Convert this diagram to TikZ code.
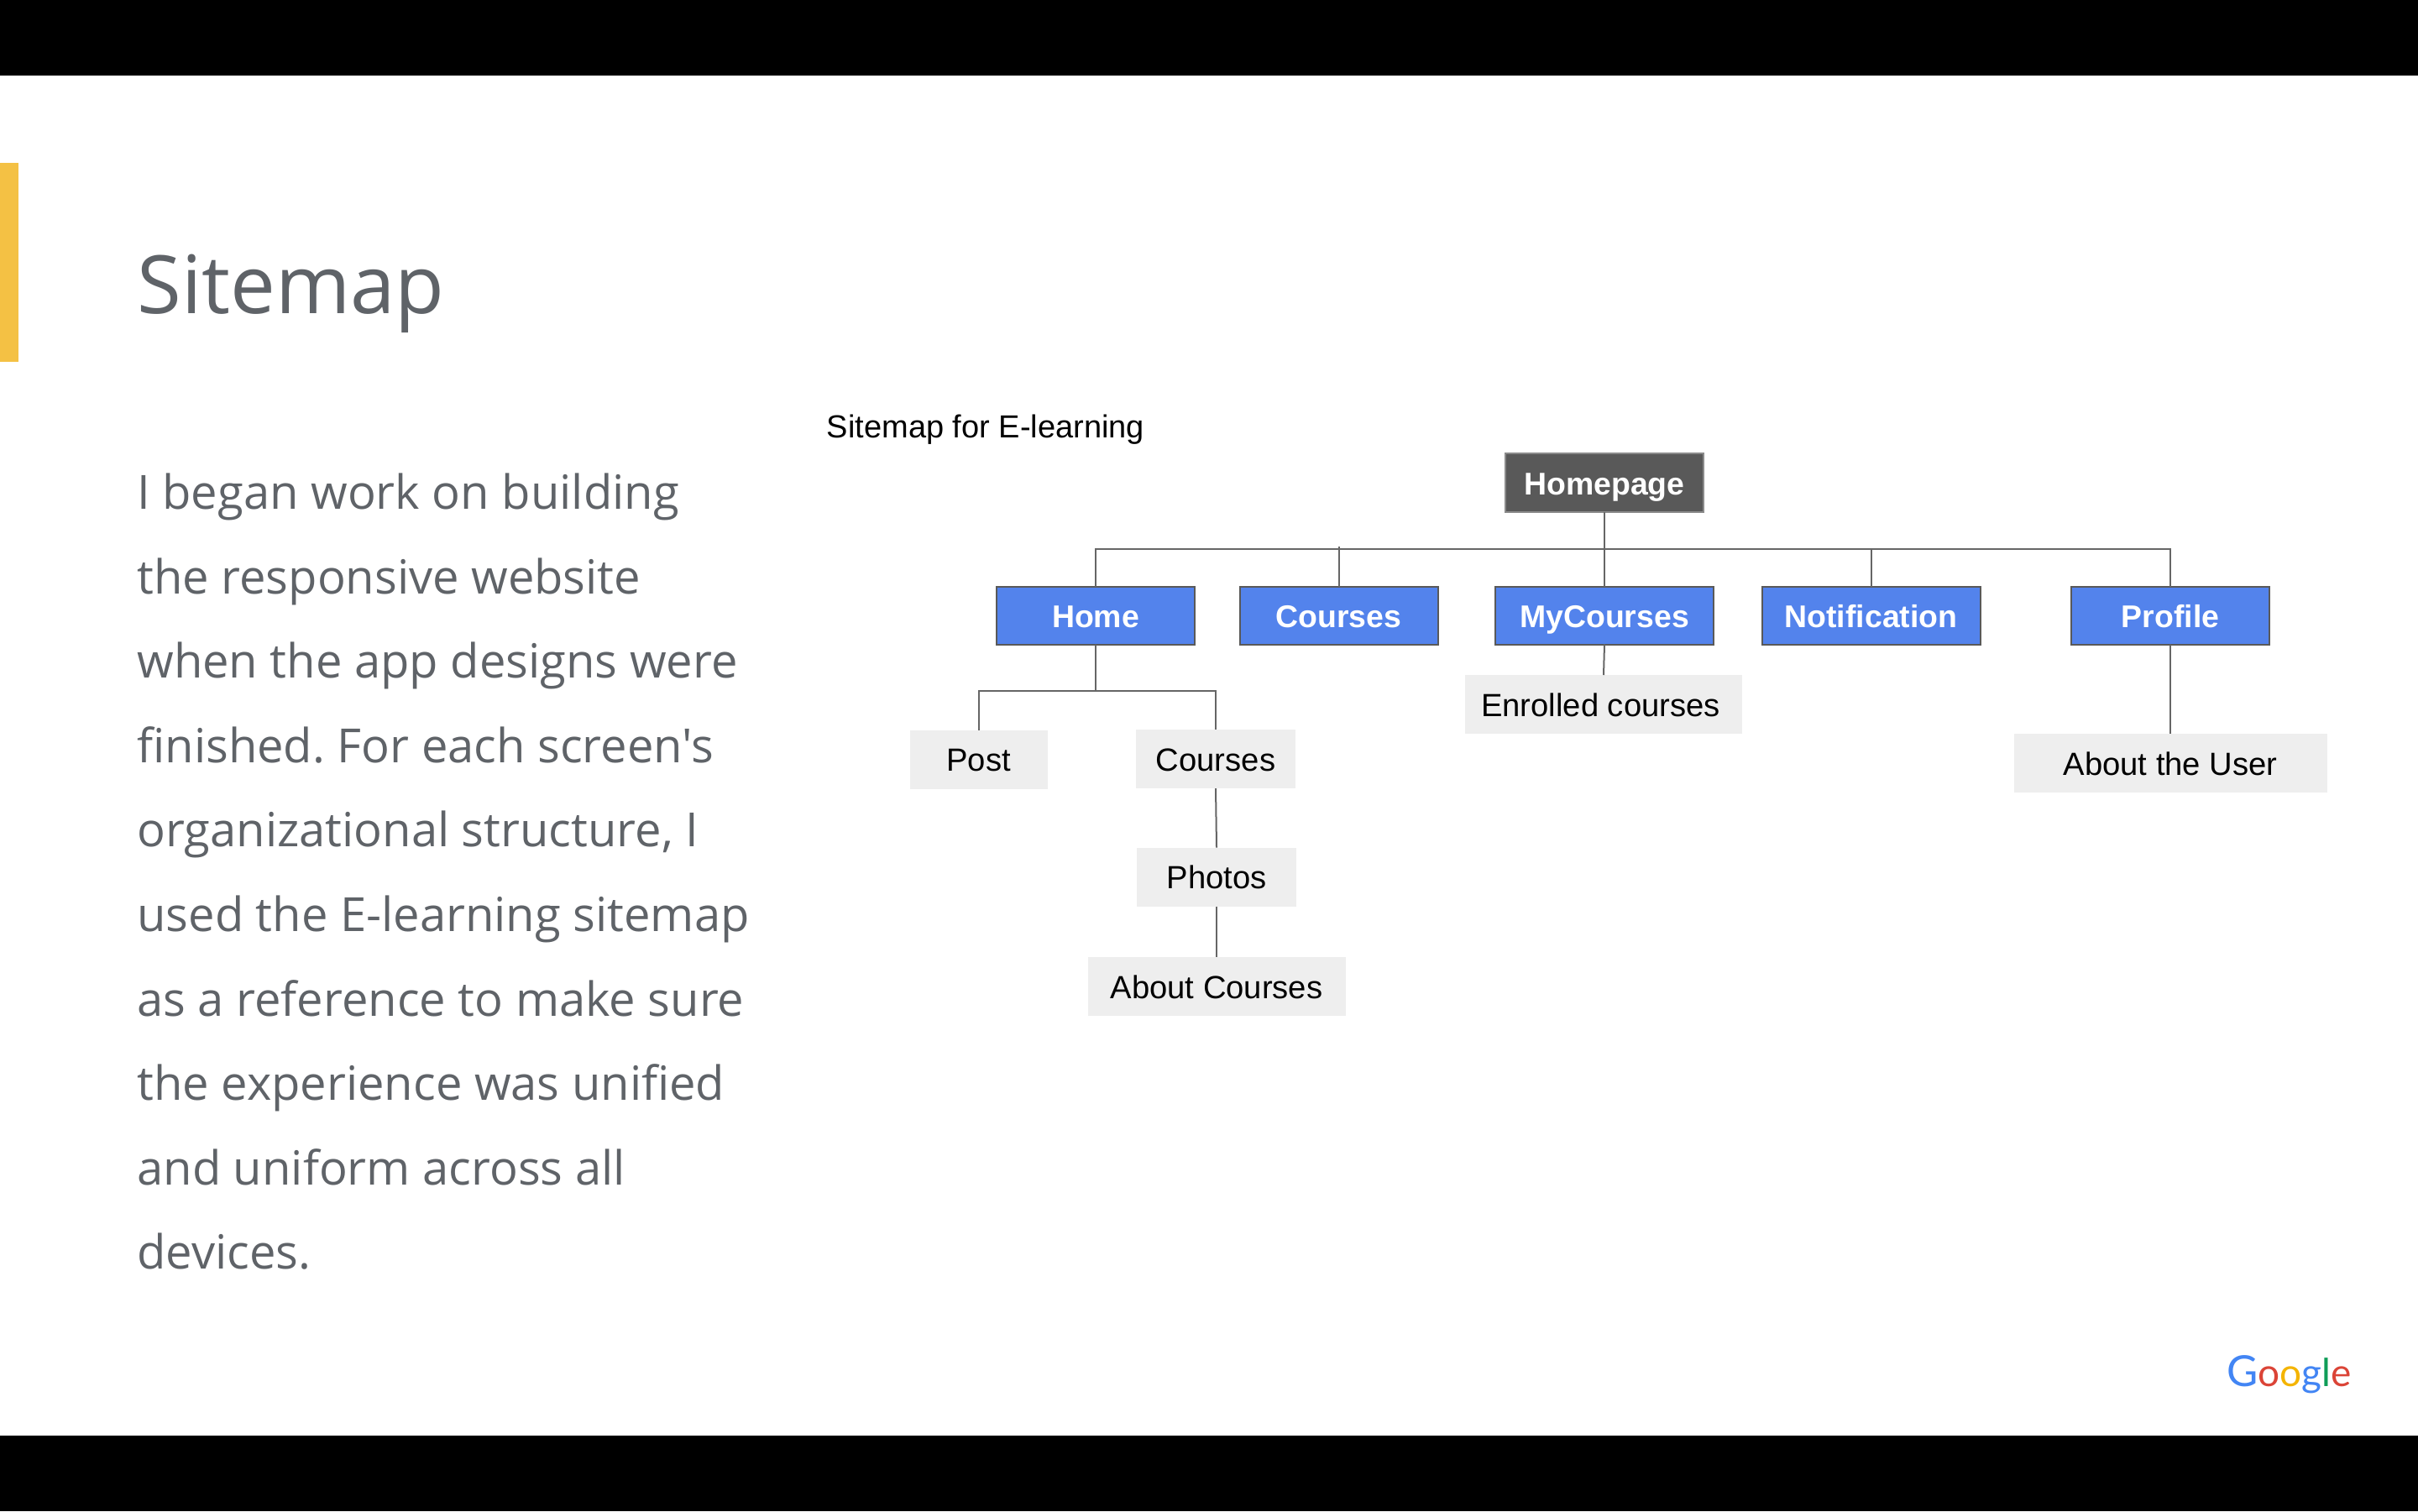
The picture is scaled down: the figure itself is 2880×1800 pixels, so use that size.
\documentclass[tikz,border=0pt]{standalone}
\usepackage{fontspec}
\setmainfont{Liberation Sans}
\newfontfamily\opensans{Open Sans}
\newfontfamily\logofont{Lato}
\definecolor{slate}{HTML}{5F6368}
\definecolor{barblue}{HTML}{5383EC}
\definecolor{darkbox}{HTML}{595959}
\definecolor{lightbox}{HTML}{EEEEEE}
\definecolor{edgegray}{HTML}{666666}
\definecolor{accent}{HTML}{F4C144}
\definecolor{gblue}{HTML}{4285F4}
\definecolor{gred}{HTML}{DB4437}
\definecolor{gyellow}{HTML}{F4B400}
\definecolor{ggreen}{HTML}{0F9D58}
\tikzset{
  basebox/.style={rectangle,inner sep=0pt,outer sep=0pt,text=black,text height=17pt,text depth=2.6pt,font=\fontsize{19.1}{22}\selectfont},
  topbox/.style={basebox,fill=darkbox,draw=darkbox!70!white,line width=0.8pt,text=white,font=\fontsize{18.7}{22}\selectfont\bfseries},
  mainbox/.style={basebox,fill=barblue,draw=darkbox,line width=1pt,text=white,font=\fontsize{18.7}{22}\selectfont\bfseries},
  subbox/.style={basebox,fill=lightbox},
  link/.style={draw=edgegray,line width=1pt},
}
\begin{document}
\begin{tikzpicture}[x=0.5pt,y=-0.5pt]
\useasboundingbox (0,0) rectangle (2880,1800);
\fill[white] (0,0) rectangle (2880,1800);
\fill[black] (0,0) rectangle (2880,90);
\fill[black] (0,1710) rectangle (2880,1800);
\fill[accent] (0,194) rectangle (22,431);
\node[anchor=base west,inner sep=0pt,text=slate,font=\opensans\fontsize{48}{60}\selectfont] (title) at (163,373) {Sitemap};
\node[anchor=north west,inner sep=0pt,text=slate,align=left,font=\opensans\fontsize{28.05}{50.3}\selectfont\frenchspacing] (body) at (163,563.5) {I began work on building\\the responsive website\\when the app designs were\\finished. For each screen's\\organizational structure, I\\used the E-learning sitemap\\as a reference to make sure\\the experience was unified\\and uniform across all\\devices.};
\node[anchor=base west,inner sep=0pt,font=\fontsize{19}{22}\selectfont] (caption) at (984.5,521.5) {Sitemap for E-learning};
% boxes
\node[topbox,minimum width=118pt,minimum height=35pt] (homepage) at (1911,575) {Homepage};
\node[mainbox,minimum width=118pt,minimum height=34.5pt] (home) at (1305,733.5) {Home};
\node[mainbox,minimum width=118pt,minimum height=34.5pt] (courses) at (1594.5,733.5) {Courses};
\node[mainbox,minimum width=130pt,minimum height=34.5pt] (mycourses) at (1911,733) {MyCourses};
\node[mainbox,minimum width=130pt,minimum height=34.5pt] (notification) at (2228.5,733.5) {Notification};
\node[mainbox,minimum width=118pt,minimum height=34.5pt] (profile) at (2585,733.5) {Profile};
\node[subbox,minimum width=82pt,minimum height=35pt] (post) at (1165.5,904.5) {Post};
\node[subbox,minimum width=95pt,minimum height=35pt] (subcourses) at (1448,904) {Courses};
\node[subbox,minimum width=95pt,minimum height=35pt] (photos) at (1449,1044.5) {Photos};
\node[subbox,minimum width=153.5pt,minimum height=35pt] (aboutcourses) at (1449,1175) {About Courses};
\node[subbox,minimum width=165pt,minimum height=35pt] (enrolled) at (1910,839) {\hspace*{-3.5pt}Enrolled courses};
\node[subbox,minimum width=186.5pt,minimum height=35pt] (aboutuser) at (2585,909) {About the User};
% bus points
\coordinate (busleft) at (home.north |- 0,654.4);
\coordinate (busright) at (profile.north |- 0,654.4);
\coordinate (busmid) at (homepage.south |- 0,654.4);
\coordinate (buscourses) at (courses.north |- 0,650.5);
\coordinate (busnotif) at (notification.north |- 0,654.4);
\coordinate (subbus) at (home.south |- 0,822.8);
% connectors
\draw[link] (homepage.south) -- (mycourses.north);
\draw[link] (home.north) -- (busleft) -- (busright) -- (profile.north);
\draw[link] (courses.north) -- (buscourses);
\draw[link] (notification.north) -- (busnotif);
\draw[link] (home.south) -- (subbus);
\draw[link] (post.north) |- (subbus) -| (subcourses.north);
\draw[link] (subcourses.south) -- (photos.north);
\draw[link] (photos.south) -- (aboutcourses.north);
\draw[link] (mycourses.south) -- (enrolled.north);
\draw[link] (profile.south) -- (aboutuser.north);
% logo
\node[anchor=base west,inner sep=0pt,font=\logofont\fontsize{23}{30}\selectfont] (logo) at (2652,1651) {\textcolor{gblue}{\fontsize{25.5}{30}\selectfont G}\textcolor{gred}{o}\textcolor{gyellow}{o}\textcolor{gblue}{g}\textcolor{ggreen}{l}\textcolor{gred}{e}};
\end{tikzpicture}
\end{document}
